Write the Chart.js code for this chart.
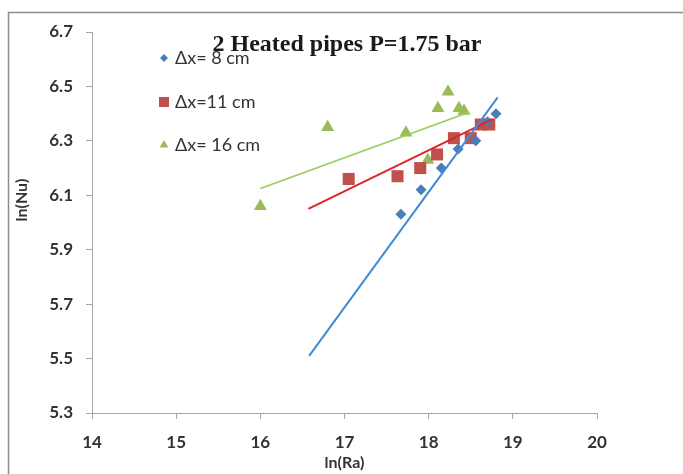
<!DOCTYPE html>
<html>
<head>
<meta charset="utf-8">
<script src="https://cdn.jsdelivr.net/npm/chart.js@4/dist/chart.umd.min.js"></script>
<style>
  html, body { margin: 0; padding: 0; background: #fff; }
</style>
</head>
<body>
<canvas id="nu_chart" width="683" height="474"></canvas>
<script>
// axis ticks
const xTicks = [14, 15, 16, 17, 18, 19, 20]
const yTicks = [5.3, 5.5, 5.7, 5.9, 6.1, 6.3, 6.5, 6.7]

const seriesNames = ['Δx= 8 cm', 'Δx=11 cm', 'Δx= 16 cm']

// ln(Ra), ln(Nu) per spacing
const ra_8 = [17.67, 17.91, 18.15, 18.35, 18.56, 18.7, 18.8]
const nu_8 = [6.03, 6.12, 6.2, 6.27, 6.3, 6.37, 6.4]

const ra_11 = [17.05, 17.63, 17.9, 18.1, 18.3, 18.5, 18.62, 18.72]
const nu_11 = [6.16, 6.17, 6.2, 6.25, 6.31, 6.31, 6.36, 6.36]

const ra_16 = [16.0, 16.8, 17.73, 17.99, 18.11, 18.23, 18.36, 18.42]
const nu_16 = [6.06, 6.35, 6.33, 6.23, 6.42, 6.48, 6.42, 6.41]

// linear trend lines (start / end)
const fit_8_x = [16.58, 18.82]
const fit_8_y = [5.51, 6.46]
const fit_11_x = [16.57, 18.76]
const fit_11_y = [6.05, 6.38]
const fit_16_x = [16.0, 18.48]
const fit_16_y = [6.125, 6.405]

const markColors = ['#4a7ebb', '#c0504d', '#9bbb59']
const lineColors = ['#3f8bd6', '#e0242c', '#97cc5c']
const styles = ['rectRot', 'rect', 'triangle']
const radii = [5.5, 8.5, 7.5]

function pairs(xs, ys) {
  return xs.map((x, i) => ({x: x, y: ys[i]}))
}

const points = [pairs(ra_8, nu_8), pairs(ra_11, nu_11), pairs(ra_16, nu_16)]
const fits = [pairs(fit_8_x, fit_8_y), pairs(fit_11_x, fit_11_y), pairs(fit_16_x, fit_16_y)]

const datasets = []
points.forEach((pts, i) => {
  datasets.push({
    label: seriesNames[i],
    data: pts,
    pointStyle: styles[i],
    pointRadius: radii[i],
    pointHoverRadius: radii[i],
    backgroundColor: markColors[i],
    borderColor: markColors[i],
    borderWidth: 0,
    showLine: false,
    order: 1
  })
})
fits.forEach((pts, i) => {
  datasets.push({
    label: 'trend ' + i,
    data: pts,
    showLine: true,
    pointRadius: 0,
    borderColor: lineColors[i],
    borderWidth: i === 2 ? 1.6 : 2,
    fill: false,
    order: 0
  })
})

function marker(ctx, style, x, y, r, color) {
  ctx.fillStyle = color
  ctx.beginPath()
  if (style === 'rectRot') {
    ctx.moveTo(x - r, y); ctx.lineTo(x, y - r); ctx.lineTo(x + r, y); ctx.lineTo(x, y + r)
  } else if (style === 'rect') {
    ctx.rect(x - r, y - r, 2 * r, 2 * r)
  } else {
    ctx.moveTo(x, y - r); ctx.lineTo(x + r * 0.866, y + r / 2); ctx.lineTo(x - r * 0.866, y + r / 2)
  }
  ctx.closePath()
  ctx.fill()
}

const decor = {
  id: 'decor',
  beforeDraw(chart) {
    const ctx = chart.ctx
    ctx.save()
    ctx.fillStyle = '#fff'
    ctx.fillRect(0, 0, chart.width, chart.height)
    ctx.strokeStyle = '#8c8c8c'
    ctx.lineWidth = 1.5
    ctx.strokeRect(8.5, 12.5, chart.width, chart.height)
    ctx.restore()
  },
  afterDraw(chart) {
    const ctx = chart.ctx
    ctx.save()

    // title sits inside the plot
    ctx.fillStyle = '#1a1a1a'
    ctx.font = 'bold 24px "Liberation Serif"'
    ctx.textAlign = 'center'
    ctx.textBaseline = 'middle'
    ctx.fillText('2 Heated pipes P=1.75 bar', 347, 45)

    // legend
    const rows = [58, 102, 145]
    const legR = [4, 5, 5]
    ctx.font = '18px Lato'
    ctx.textAlign = 'left'
    seriesNames.forEach((name, i) => {
      marker(ctx, styles[i], 164, rows[i], legR[i], markColors[i])
      ctx.fillStyle = '#333'
      ctx.fillText(name, 175, rows[i])
    })

    // y axis title
    ctx.translate(22, 200)
    ctx.rotate(-Math.PI / 2)
    ctx.textAlign = 'center'
    ctx.font = 'bold 16px Lato'
    ctx.fillStyle = '#333'
    ctx.fillText('ln(Nu)', 0, 0)
    ctx.restore()
  }
}

const tickFont = {family: 'Lato', size: 17, weight: 'bold'}

new Chart(document.getElementById('nu_chart'), {
  type: 'scatter',
  data: { datasets: datasets },
  plugins: [decor],
  options: {
    responsive: false,
    animation: false,
    layout: { padding: { left: 0, top: 32, right: 86, bottom: 0 } },
    plugins: {
      legend: { display: false },
      tooltip: { enabled: false }
    },
    scales: {
      x: {
        type: 'linear',
        min: xTicks[0],
        max: xTicks[xTicks.length - 1],
        afterBuildTicks: s => { s.ticks = xTicks.map(v => ({value: v})) },
        afterFit: s => { s.height = 61 },
        grid: { drawOnChartArea: false, drawTicks: true, tickLength: 6, color: '#a6a6a6' },
        border: { display: true, color: '#a6a6a6' },
        ticks: { font: tickFont, color: '#333', padding: 13, callback: v => v },
        title: {
          display: true,
          text: 'ln(Ra)',
          font: {family: 'Lato', size: 16, weight: 'bold'},
          color: '#333',
          padding: { top: 0, bottom: 2 }
        }
      },
      y: {
        type: 'linear',
        min: yTicks[0],
        max: yTicks[yTicks.length - 1],
        afterBuildTicks: s => { s.ticks = yTicks.map(v => ({value: v})) },
        afterFit: s => { s.width = 92 },
        grid: { drawOnChartArea: false, drawTicks: true, tickLength: 6, color: '#a6a6a6' },
        border: { display: true, color: '#a6a6a6' },
        ticks: { font: tickFont, color: '#333', padding: 13, callback: v => Number(v).toFixed(1) }
      }
    }
  }
})
</script>
</body>
</html>
